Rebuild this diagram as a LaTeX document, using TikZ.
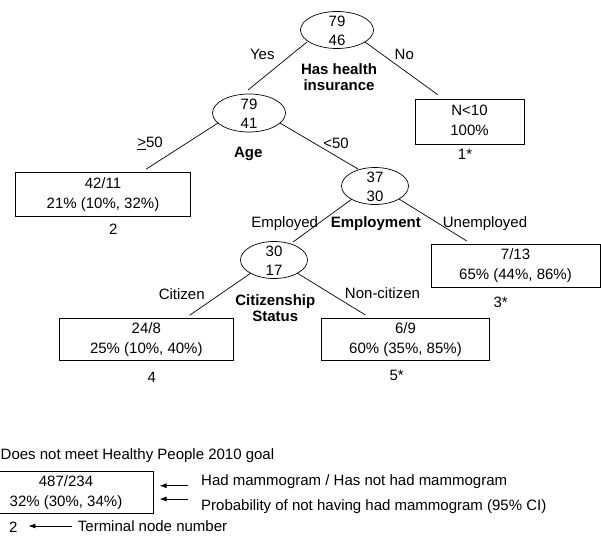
\documentclass[tikz,border=0pt]{standalone}
\usepackage{fontspec}
\setmainfont{Liberation Sans}
\usetikzlibrary{calc,arrows.meta,shapes.geometric}
\newcommand\bstrut{\rule[-3.9pt]{0pt}{16pt}}
\newcommand\estrut{\rule[-2.3pt]{0pt}{17pt}}
\begin{document}
\begin{tikzpicture}[x=1pt,y=-1pt,
  every node/.style={font=\fontsize{15}{20}\selectfont},
  ell/.style={draw, ellipse, line width=0.7pt, inner xsep=0pt, inner ysep=-12pt, align=center, font=\fontsize{15}{18.5}\selectfont},
  tbox/.style={draw, rectangle, line width=0.7pt, inner sep=0pt, align=center},
  lbl/.style={inner sep=0pt, text height=10.7pt, text depth=0pt},
  blbl/.style={lbl, font=\fontsize{15}{20}\selectfont\bfseries},
  bl/.style={inner sep=0pt, align=center, font=\fontsize{15}{16}\selectfont\bfseries},
  conn/.style={line width=0.7pt},
  arr/.style={line width=0.7pt, -{Latex[length=7pt,width=5pt]}}
]
\useasboundingbox (0,0) rectangle (601,535);

% split nodes
\node[ell, minimum width=73pt, minimum height=37pt] (root) at (337,30) {\estrut 79\\\estrut 46};
\node[ell, minimum width=73pt, minimum height=38pt] (age) at (249,113) {\estrut 79\\\estrut 41};
\node[ell, minimum width=67pt, minimum height=37pt] (emp) at (375,186) {\estrut 37\\\estrut 30};
\node[ell, minimum width=67pt, minimum height=37pt] (cit) at (274,260) {\estrut 30\\\estrut 17};

% terminal boxes
\node[tbox, minimum width=109pt, minimum height=45pt] (n1) at (469.5,121.5) {\bstrut N<10\\\bstrut 100\%};
\node[tbox, minimum width=175pt, minimum height=44pt] (b2) at (103,194.5) {\bstrut 42/11\\\bstrut 21\% (10\%, 32\%)};
\node[tbox, minimum width=169pt, minimum height=43pt] (b3) at (515.5,265.8) {\bstrut 7/13\\\bstrut 65\% (44\%, 86\%)};
\node[tbox, minimum width=174pt, minimum height=42pt] (b4) at (146.3,339.2) {\bstrut 24/8\\\bstrut 25\% (10\%, 40\%)};
\node[tbox, minimum width=167.6pt, minimum height=42.4pt] (b5) at (405.5,339.5) {\bstrut 6/9\\\bstrut 60\% (35\%, 85\%)};

% split variable names
\node[bl] (hhi) at (339,77) {Has health\\insurance};
\node[blbl] (agel) at (248.3,152.3) {Age};
\node[blbl] (empl) at (375.8,221.7) {Employment};
\node[bl] (citl) at (275.3,308) {Citizenship\\Status};

% branch labels
\node[lbl] (yes) at (262.3,54.3) {Yes};
\node[lbl] (no) at (404.3,54.3) {No};
\node[lbl] (ge50) at (150,142.3) {\underline{>}50};
\node[lbl] (lt50) at (336,142.7) {<50};
\node[lbl] (empd) at (284.7,221.7) {Employed};
\node[lbl] (unemp) at (485,221.7) {Unemployed};
\node[lbl] (citz) at (181.7,294) {Citizen};
\node[lbl] (ncit) at (382.5,293) {Non-citizen};

% terminal node numbers
\node[lbl] (t1) at (465,154) {1*};
\node[lbl] (t2) at (113.3,229) {2};
\node[lbl] (t3) at (500.7,302.3) {3*};
\node[lbl] (t4) at (151.7,376.7) {4};
\node[lbl] (t5) at (396.7,375) {5*};

% connectors
\draw[conn] ($(root)+(-30,12)$) -- ($(age)+(-1,-23)$);
\draw[conn] ($(root)+(28,12)$) -- ($(n1.north west)+(23,-4)$);
\draw[conn] ($(age)+(-31,10)$) -- ($(b2.north west)+(131,-3)$);
\draw[conn] ($(age)+(31,10)$) -- ($(emp)+(-17,-17)$);
\draw[conn] ($(emp)+(-23,13)$) -- ($(cit)+(19,-18)$);
\draw[conn] ($(emp)+(24,13)$) -- ($(b3.north west)+(36,-3)$);
\draw[conn] ($(cit)+(-23,13)$) -- ($(b4.north west)+(130.7,-2.6)$);
\draw[conn] ($(cit)+(23,13)$) -- ($(b5.north west)+(44,-3)$);

% legend
\node[lbl, anchor=west] (goal) at (0.5,454) {Does not meet Healthy People 2010 goal};
\node[tbox, minimum width=174pt, minimum height=41.6pt] (leg) at (66,492.5) {\bstrut 487/234\\\bstrut 32\% (30\%, 34\%)};
\node[lbl, anchor=west] (lt1) at (201,480) {Had mammogram / Has not had mammogram};
\node[lbl, anchor=west] (lt2) at (201,504.7) {Probability of not having had mammogram (95\% CI)};
\node[lbl] (l2) at (13.3,527.5) {2};
\node[lbl, anchor=west] (lt3) at (77.7,526.5) {Terminal node number};
\draw[arr] ($(lt1.west)+(-12.7,5.7)$) -- ($(leg.east)+(6.3,-6.8)$);
\draw[arr] ($(lt2.west)+(-12.7,-5.7)$) -- ($(leg.east)+(6.3,6.5)$);
\draw[arr] ($(lt3.west)+(-6,-0.5)$) -- ($(l2.east)+(10.8,-1.5)$);
\end{tikzpicture}
\end{document}
